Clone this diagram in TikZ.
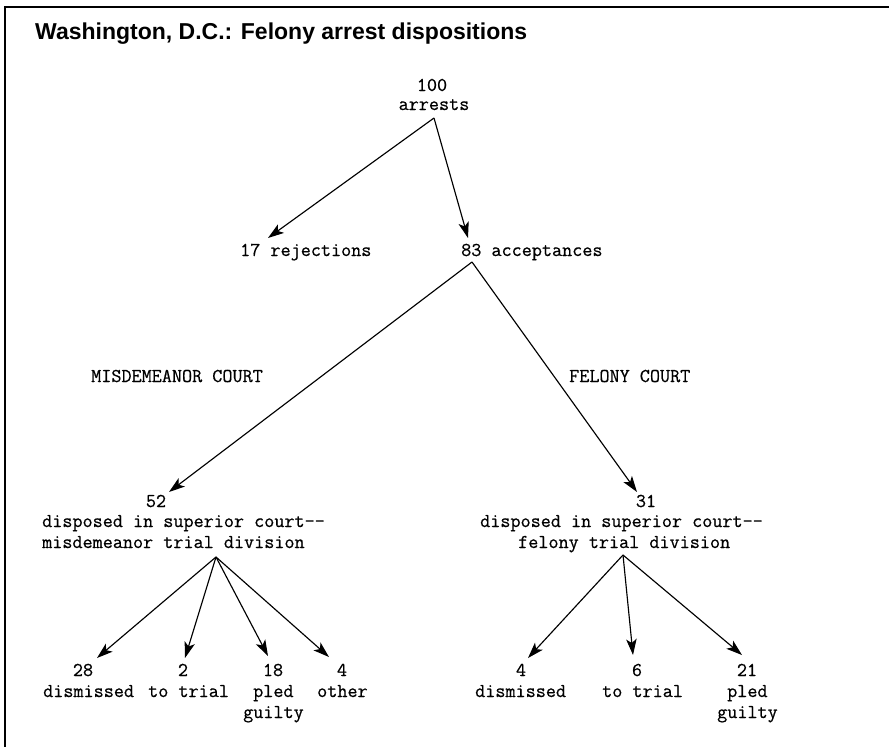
\documentclass[tikz,border=0pt]{standalone}
\usepackage{fontspec}
\newfontfamily\titlefont{Liberation Sans}
\newfontfamily\typefont{Latin Modern Mono}[FakeBold=0.6]
\usetikzlibrary{arrows.meta}
\begin{document}
\begin{tikzpicture}[x=1pt,y=-1pt,
  lbl/.style={font=\fontsize{19.6}{20}\typefont, inner sep=0pt, anchor=base west},
  num/.style={lbl, anchor=base},
  titlestyle/.style={font=\titlefont\bfseries\fontsize{23}{26}\selectfont, inner sep=0pt, anchor=base west},
  conn/.style={line width=1.15pt, -{Stealth[length=16pt,width=10.5pt,inset=4pt]}},
  borderline/.style={line width=1.4pt}]
\useasboundingbox (0,0) rectangle (889,747);
\draw[borderline] (889,7) -- (5,7) -- (5,747);
\node[titlestyle] (title) at (35,39) {Washington, D.C.: Felony arrest dispositions};
% top
\node[num] (n100) at (432,91) {100};
\node[num] (arr) at (434,110) {arrests};
\coordinate (aA) at (434,118);
\node[lbl] (rej) at (240,256) {17 rejections};
\node[lbl] (acc) at (461,256) {83 acceptances};
\coordinate (tRej) at (268,238);
\coordinate (tAcc) at (468,238);
\coordinate (aAcc) at (472,262);
\node[lbl] (mc) at (91,382) {MISDEMEANOR COURT};
\node[lbl] (fc) at (569,382) {FELONY COURT};
% left division
\node[num] (n52) at (156,507) {52};
\node[lbl] (l1) at (42,527) {disposed in superior court--};
\node[lbl] (l2) at (42,548) {misdemeanor trial division};
\coordinate (t52) at (169,492);
\coordinate (aL) at (216,557);
% right division
\node[num] (n31) at (646,507) {31};
\node[lbl] (r1) at (480,527) {disposed in superior court--};
\node[lbl] (r2) at (518,548) {felony trial division};
\coordinate (t31) at (637,492);
\coordinate (aR) at (623,555);
% left outcomes
\node[num] (n28) at (83,676) {28};
\node[lbl] (d28) at (43,697) {dismissed};
\node[num] (n2) at (183,676) {2};
\node[lbl] (d2) at (148,697) {to trial};
\node[num] (n18) at (273,676) {18};
\node[lbl] (d18) at (253,697) {pled};
\node[lbl] (g18) at (243,718) {guilty};
\node[num] (n4) at (342,676) {4};
\node[lbl] (d4) at (317,697) {other};
\coordinate (t28) at (97,658);
\coordinate (t2) at (185,658);
\coordinate (t18) at (268,656);
\coordinate (t4) at (329,657);
% right outcomes
\node[num] (m4) at (521,676) {4};
\node[lbl] (e4) at (475,697) {dismissed};
\node[num] (m6) at (637,676) {6};
\node[lbl] (e6) at (602,697) {to trial};
\node[num] (m21) at (747,676) {21};
\node[lbl] (e21) at (727,697) {pled};
\node[lbl] (f21) at (717,718) {guilty};
\coordinate (s4) at (528,658);
\coordinate (s6) at (633,655);
\coordinate (s21) at (742,655);
% connectors
\draw[conn] (aA) -- (tRej);
\draw[conn] (aA) -- (tAcc);
\draw[conn] (aAcc) -- (t52);
\draw[conn] (aAcc) -- (t31);
\draw[conn] (aL) -- (t28);
\draw[conn] (aL) -- (t2);
\draw[conn] (aL) -- (t18);
\draw[conn] (aL) -- (t4);
\draw[conn] (aR) -- (s4);
\draw[conn] (aR) -- (s6);
\draw[conn] (aR) -- (s21);
\end{tikzpicture}
\end{document}
